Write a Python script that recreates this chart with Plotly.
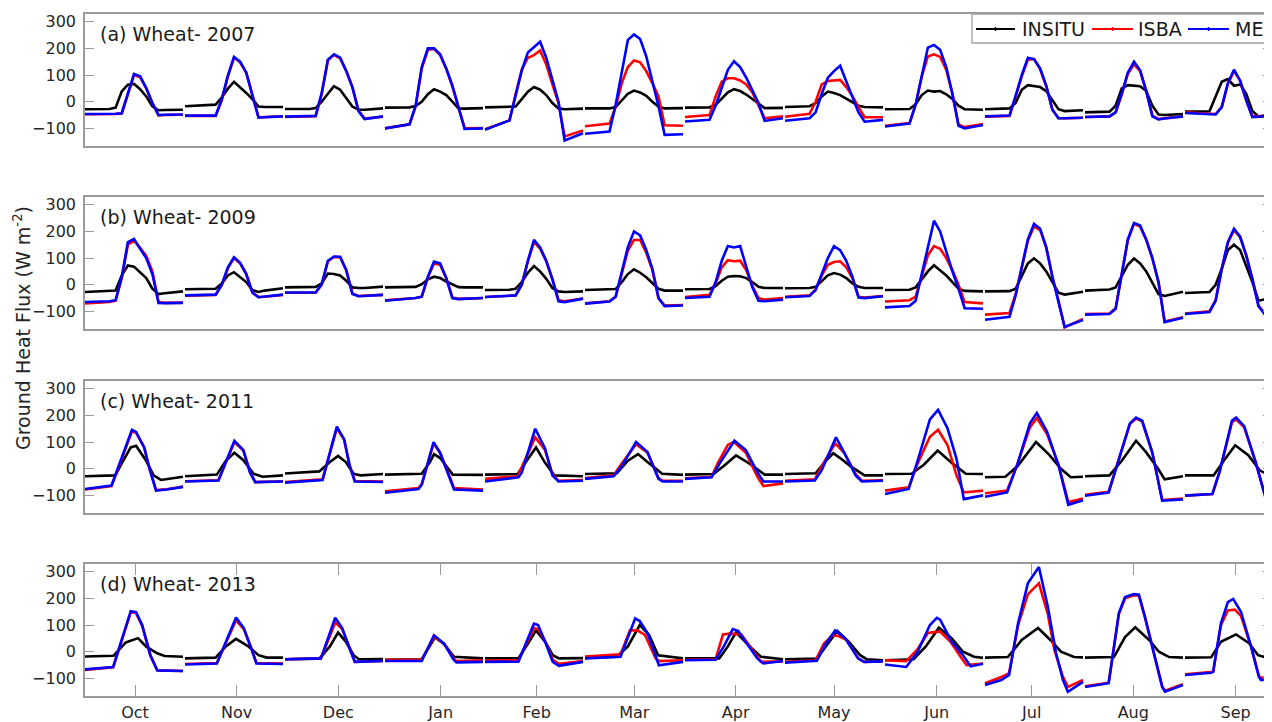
import plotly.graph_objects as go

# ---------------- data ----------------
MONTHS = ["Oct", "Nov", "Dec", "Jan", "Feb", "Mar", "Apr", "May", "Jun", "Jul", "Aug", "Sep"]
TICK_POS = [0.50, 1.517, 2.533, 3.557, 4.517, 5.493, 6.507, 7.49, 8.517, 9.467, 10.483, 11.507]
PANEL_TITLES = ["(a) Wheat- 2007", "(b) Wheat- 2009", "(c) Wheat- 2011", "(d) Wheat- 2013"]
SERIES = ["INSITU", "ISBA", "MEB"]

# hour of day of each value for panels (a) and (b)
GRID_HOURS = [0, 6, 7.5, 9, 10.5, 12, 13.5, 15, 16.5, 18, 19.5, 24]

A_INSITU = [
    [-28, -27, -22, 39, 64, 67, 47, 20, -17, -32, -31, -30],
    [-17, -12, -11, 16, 49, 75, 55, 33, 10, -18, -20, -20],
    [-27, -27, -24, 0, 30, 58, 45, 15, -18, -30, -30, -25],
    [-22, -21, -16, 0, 28, 47, 38, 25, 0, -25, -26, -24],
    [-21, -20, -18, 10, 38, 55, 45, 25, -5, -25, -28, -26],
    [-25, -25, -20, 5, 30, 42, 35, 22, 0, -18, -25, -24],
    [-22, -21, -12, 12, 35, 47, 40, 27, 10, -8, -24, -23],
    [-20, -17, -5, 20, 38, 33, 25, 12, 0, -15, -20, -21],
    [-28, -27, -10, 25, 42, 38, 40, 28, 10, -15, -28, -30],
    [-28, -25, -5, 45, 62, 58, 55, 40, 5, -28, -35, -32],
    [-40, -37, -15, 50, 62, 60, 58, 40, -15, -48, -50, -46],
    [-37, -36, 20, 75, 85, 60, 65, 30, -35, -55, -55, -52],
]
A_ISBA = [
    [-47, -47, -46, -44, 30, 100, 92, 50, -5, -51, -50, -49],
    [-53, -54, -53, 5, 95, 165, 148, 108, 28, -58, -57, -55],
    [-57, -55, -54, 30, 155, 176, 163, 115, 55, -33, -63, -56],
    [-100, -85, -18, 125, 195, 198, 175, 123, 58, -25, -100, -99],
    [-103, -70, 28, 120, 165, 175, 192, 140, 65, -5, -130, -108],
    [-92, -82, -20, 70, 130, 155, 148, 115, 70, 20, -88, -90],
    [-57, -50, 20, 75, 88, 88, 80, 65, 35, -15, -62, -55],
    [-56, -45, 0, 65, 78, 80, 82, 55, 22, -20, -58, -58],
    [-90, -80, -12, 95, 170, 178, 168, 120, 30, -85, -95, -84],
    [-56, -53, 20, 95, 158, 160, 122, 58, -30, -62, -62, -60],
    [-57, -55, -40, 28, 105, 140, 115, 40, -52, -65, -62, -55],
    [-40, -45, -46, -20, 68, 115, 78, 5, -55, -55, -52, -50],
]
A_MEB = [
    [-46, -46, -45, -43, 32, 104, 95, 51, -5, -50, -49, -48],
    [-52, -53, -52, 9, 98, 168, 150, 110, 30, -60, -58, -55],
    [-56, -54, -53, 33, 158, 178, 165, 115, 55, -35, -65, -55],
    [-100, -85, -15, 130, 200, 200, 178, 125, 60, -25, -102, -100],
    [-105, -70, 24, 117, 185, 205, 225, 165, 80, 0, -145, -118],
    [-120, -112, -12, 110, 232, 252, 235, 170, 75, -17, -124, -122],
    [-74, -68, -15, 55, 120, 152, 130, 90, 42, -5, -72, -62],
    [-71, -62, -40, 30, 90, 115, 135, 75, 15, -40, -75, -68],
    [-93, -82, -10, 100, 203, 213, 195, 130, 30, -90, -100, -87],
    [-55, -52, 22, 100, 165, 160, 125, 60, -30, -62, -62, -60],
    [-57, -55, -40, 30, 110, 150, 118, 40, -55, -66, -63, -55],
    [-42, -47, -48, -20, 70, 120, 80, 5, -58, -56, -52, -50],
]

B_INSITU = [
    [-27, -25, -22, 35, 72, 68, 45, 25, -15, -35, -32, -25],
    [-17, -16, -15, 5, 35, 47, 30, 10, -20, -27, -22, -13],
    [-10, -9, -8, 5, 42, 40, 35, 15, -10, -12, -12, -7],
    [-10, -9, -8, 2, 20, 30, 25, 12, 0, -9, -10, -10],
    [-20, -19, -15, 10, 45, 70, 50, 22, -12, -25, -27, -25],
    [-20, -19, -16, 10, 40, 58, 45, 28, 5, -15, -22, -22],
    [-17, -16, -5, 15, 30, 33, 32, 25, 10, -8, -12, -12],
    [-13, -12, -8, 15, 35, 44, 38, 25, 5, -8, -12, -12],
    [-20, -19, -10, 20, 50, 73, 55, 35, 10, -15, -23, -25],
    [-25, -24, -15, 30, 80, 99, 80, 50, 10, -30, -37, -26],
    [-22, -18, -10, 30, 75, 98, 80, 50, 5, -35, -42, -26],
    [-31, -27, 0, 60, 130, 150, 130, 70, 10, -60, -55, -35],
]
B_ISBA = [
    [-70, -65, -60, 25, 150, 165, 138, 108, 50, -65, -68, -67],
    [-41, -39, -38, -2, 62, 100, 80, 40, -28, -46, -45, -38],
    [-30, -30, -30, 0, 88, 104, 103, 55, -33, -42, -41, -38],
    [-58, -52, -50, -45, 28, 80, 75, 25, -48, -53, -52, -50],
    [-46, -43, -40, 0, 88, 160, 135, 88, 22, -58, -62, -52],
    [-70, -62, -45, 42, 128, 168, 168, 120, 55, -50, -78, -76],
    [-46, -38, 5, 65, 92, 88, 90, 55, -5, -50, -56, -50],
    [-45, -40, -18, 35, 75, 85, 88, 65, 25, -45, -48, -42],
    [-63, -58, -45, 30, 110, 145, 135, 100, 55, 0, -65, -70],
    [-112, -106, -35, 70, 165, 218, 205, 140, 30, -60, -160, -128],
    [-110, -108, -88, 40, 168, 228, 218, 168, 98, 10, -138, -122],
    [-108, -100, -58, 58, 158, 205, 178, 110, 22, -78, -108, -94],
]
B_MEB = [
    [-65, -62, -58, 28, 160, 172, 135, 100, 40, -68, -69, -68],
    [-40, -38, -37, 0, 65, 103, 82, 40, -30, -47, -45, -37],
    [-29, -29, -29, 3, 90, 106, 105, 55, -35, -43, -42, -38],
    [-60, -52, -50, -45, 30, 87, 80, 25, -50, -54, -53, -50],
    [-46, -43, -40, 0, 90, 168, 140, 90, 20, -62, -65, -52],
    [-71, -63, -45, 48, 141, 200, 185, 130, 60, -50, -80, -78],
    [-50, -45, 10, 90, 145, 140, 145, 70, -10, -60, -62, -56],
    [-47, -42, -20, 40, 100, 145, 130, 90, 30, -48, -50, -43],
    [-85, -80, -60, 40, 150, 240, 200, 120, 50, -15, -88, -90],
    [-131, -120, -40, 70, 170, 228, 210, 140, 30, -65, -158, -132],
    [-112, -110, -90, 40, 170, 232, 222, 170, 100, 10, -140, -124],
    [-110, -102, -60, 60, 160, 210, 180, 110, 20, -80, -110, -95],
]

# panels (c) and (d): (hour, value) pairs
C_INSITU = [
    [(0, -28), (7.4, -25), (9, 20), (11.2, 80), (12.5, 86), (14.9, 32), (16.8, -25), (18.6, -42), (24, -30)],
    [(0, -28), (7.8, -22), (10, 30), (12.1, 60), (14.3, 32), (16.8, -19), (19, -30), (24, -25)],
    [(0, -18), (8.4, -10), (11, 25), (13, 48), (14.9, 25), (16.8, -19), (18.6, -25), (24, -20)],
    [(0, -22), (9, -19), (11, 25), (12, 55), (13.5, 40), (16.6, -22), (24, -23)],
    [(0, -22), (8, -20), (10, 25), (12.5, 80), (14.6, 25), (17, -25), (24, -28)],
    [(0, -20), (7.8, -17), (10.5, 30), (13, 55), (15.3, 25), (18.9, -19), (24, -23)],
    [(0, -22), (7, -20), (9.5, 10), (12.5, 50), (15.8, 19), (19.5, -22), (24, -22)],
    [(0, -20), (7.5, -17), (10, 30), (11.8, 58), (13.5, 40), (16, 10), (19.5, -25), (24, -25)],
    [(0, -20), (6.5, -19), (9.5, 15), (12.9, 68), (16.5, 20), (19.8, -19), (24, -20)],
    [(0, -32), (5, -30), (8, 10), (12.5, 100), (15.8, 51), (18.6, 0), (21, -32), (24, -30)],
    [(0, -28), (6, -25), (9, 30), (12.5, 105), (14.9, 63), (17.9, 0), (19.5, -40), (24, -28)],
    [(0, -25), (7, -25), (9.5, 30), (12.3, 88), (15.5, 51), (18.3, -6), (21, -28), (24, -28)],
]
C_ISBA = [
    [(0, -78), (6.5, -65), (11.5, 140), (12.5, 135), (14.5, 80), (15.8, 0), (17.4, -80), (20, -77), (24, -67)],
    [(0, -47), (8.2, -43), (12.1, 100), (14.3, 68), (15.9, -12), (17.2, -50), (24, -47)],
    [(0, -50), (9.2, -40), (12.7, 152), (14.5, 108), (15.8, 13), (17.1, -46), (24, -48)],
    [(0, -85), (8.2, -72), (9, -58), (11.9, 95), (13.5, 60), (16.9, -72), (24, -78)],
    [(0, -38), (8, -28), (12.3, 118), (14.7, 70), (16.5, -20), (18, -45), (24, -42)],
    [(0, -35), (7, -25), (9, 20), (12.5, 92), (15.3, 60), (18, -35), (19, -45), (24, -45)],
    [(0, -36), (6.5, -30), (8, 20), (10.5, 90), (12, 100), (14.9, 60), (17.7, -30), (19.2, -65), (24, -55)],
    [(0, -45), (7.3, -40), (9, 10), (12.3, 95), (14.5, 60), (17.3, -20), (18.8, -45), (24, -43)],
    [(0, -82), (5.8, -70), (8, 20), (11, 120), (13, 146), (15.3, 89), (17.5, -25), (19.3, -89), (24, -82)],
    [(0, -92), (5.4, -82), (8, 20), (11, 155), (12.7, 190), (15.2, 130), (18, 15), (20.4, -125), (24, -112)],
    [(0, -98), (5.8, -86), (8, 22), (11, 168), (12.5, 188), (14, 178), (16.5, 60), (18.9, -117), (24, -112)],
    [(0, -101), (6.7, -95), (8.5, -10), (11.5, 175), (12.5, 185), (14.5, 155), (17.3, 25), (19.7, -105), (24, -100)],
]
C_MEB = [
    [(0, -76), (6.5, -63), (11.5, 146), (12.5, 138), (14.5, 80), (15.8, 0), (17.4, -82), (20, -78), (24, -68)],
    [(0, -48), (8.2, -44), (12.1, 105), (14.3, 70), (15.9, -13), (17.2, -50), (24, -48)],
    [(0, -52), (9.2, -42), (12.7, 158), (14.5, 110), (15.8, 13), (17.1, -48), (24, -50)],
    [(0, -90), (8.2, -76), (9, -60), (11.9, 100), (13.5, 60), (16.9, -78), (24, -82)],
    [(0, -48), (8.2, -32), (9, -15), (12.3, 150), (14.7, 76), (16.5, -25), (18, -48), (24, -45)],
    [(0, -38), (7, -28), (9, 10), (12.5, 100), (15.3, 63), (18, -38), (19, -48), (24, -48)],
    [(0, -38), (6.5, -32), (8.5, 20), (12.1, 105), (14.9, 70), (17.7, -13), (19.2, -48), (24, -48)],
    [(0, -48), (7.3, -44), (9, -5), (12.5, 118), (14.5, 60), (17.3, -25), (18.8, -48), (24, -45)],
    [(0, -95), (5.8, -76), (8, 30), (11, 185), (13, 221), (15.3, 152), (17.5, 38), (19.3, -114), (24, -100)],
    [(0, -105), (5.4, -89), (8, 20), (11, 170), (12.7, 209), (15.2, 139), (18, 13), (20.4, -135), (24, -118)],
    [(0, -101), (5.8, -89), (8, 20), (11, 170), (12.5, 192), (14, 180), (16.5, 60), (18.9, -120), (24, -115)],
    [(0, -101), (6.7, -95), (8.5, -10), (11.5, 180), (12.5, 192), (14.5, 160), (17.3, 25), (19.7, -108), (24, -100)],
]

D_INSITU = [
    [(0, -18), (7, -15), (10, 35), (13, 51), (15, 19), (17.7, -6), (19.5, -16), (24, -19)],
    [(0, -25), (7.5, -22), (10, 20), (12.5, 48), (15.6, 19), (18, -13), (20, -22), (24, -22)],
    [(0, -28), (8.4, -26), (11, 20), (13, 72), (14.9, 38), (16.8, -13), (18.1, -28), (24, -27)],
    [(0, -30), (9, -28), (12.3, 55), (14.7, 25), (16.9, -19), (24, -25)],
    [(0, -25), (8.2, -24), (10.5, 30), (12.5, 80), (14.7, 38), (16.6, -13), (18.1, -25), (24, -24)],
    [(0, -23), (7.8, -19), (10.5, 20), (13.4, 100), (15.7, 63), (17.9, -13), (24, -25)],
    [(0, -25), (8.4, -25), (10.5, 20), (12.5, 73), (15.9, 19), (18.6, -19), (24, -28)],
    [(0, -28), (7.8, -26), (10.5, 30), (12.8, 78), (15.6, 38), (18.4, -13), (20, -28), (24, -32)],
    [(0, -32), (7, -28), (10, 20), (13.2, 90), (16.3, 51), (19.1, 0), (21.8, -19), (24, -23)],
    [(0, -22), (5.6, -20), (9, 44), (13, 89), (16, 44), (18.6, 0), (21.8, -20), (24, -21)],
    [(0, -22), (7.1, -20), (9.8, 55), (12.3, 92), (15.7, 44), (18.1, 0), (20.6, -20), (24, -22)],
    [(0, -22), (6.4, -21), (8.8, 37), (12.5, 65), (15.7, 32), (17.9, -13), (20.3, -24), (24, -24)],
]
D_ISBA = [
    [(0, -68), (6.9, -58), (11.2, 148), (12.5, 145), (14, 98), (16, -13), (17.7, -70), (24, -72)],
    [(0, -46), (7.8, -42), (12.5, 118), (14.4, 85), (16.2, 15), (17.5, -42), (24, -44)],
    [(0, -28), (8.8, -25), (12.3, 110), (14, 85), (15.8, 15), (17.1, -38), (24, -35)],
    [(0, -30), (9, -30), (12, 55), (14.5, 30), (16.8, -25), (17.5, -35), (24, -32)],
    [(0, -33), (8.2, -32), (12, 88), (13, 85), (14.7, 40), (16.6, -30), (18.1, -45), (24, -35)],
    [(0, -18), (8.7, -10), (11, 80), (12.8, 80), (14.7, 63), (17.3, -25), (18.1, -35), (24, -32)],
    [(0, -30), (7.5, -28), (9.3, 65), (11, 68), (13.8, 65), (16.8, 0), (18.6, -38), (24, -36)],
    [(0, -38), (7.5, -32), (9.5, 30), (11.5, 60), (13, 60), (15, 45), (17.9, -25), (19.4, -38), (24, -36)],
    [(0, -32), (5.2, -35), (8, 10), (10.5, 70), (13.5, 76), (16, 38), (18.8, -25), (20, -50), (24, -44)],
    [(0, -118), (4, -95), (5.9, -80), (8.1, 100), (10.5, 215), (13.2, 257), (15.4, 140), (17, 6), (19, -90), (20.3, -132), (24, -106)],
    [(0, -130), (5.8, -116), (8.3, 142), (9.8, 200), (12, 212), (13.2, 210), (14.7, 128), (17.2, -20), (18.9, -130), (19.6, -146), (24, -122)],
    [(0, -85), (6.9, -75), (8.8, 100), (10.5, 155), (12.2, 158), (13.7, 135), (16.2, 18), (18.1, -90), (18.6, -98), (24, -95)],
]
D_MEB = [
    [(0, -66), (6.9, -57), (11.2, 152), (12.5, 148), (14, 100), (16, -13), (17.7, -70), (24, -72)],
    [(0, -48), (7.8, -44), (12.5, 128), (14.4, 89), (16.2, 13), (17.5, -44), (24, -46)],
    [(0, -28), (8.8, -25), (12.3, 128), (14, 89), (15.8, 13), (17.1, -38), (24, -35)],
    [(0, -35), (9, -35), (12, 62), (14.5, 30), (16.8, -30), (17.5, -40), (24, -38)],
    [(0, -38), (8.2, -37), (12, 105), (13, 100), (14.7, 38), (16.6, -38), (18.1, -53), (24, -38)],
    [(0, -25), (8.7, -19), (12.3, 125), (13.4, 115), (15.3, 70), (18.1, -51), (24, -38)],
    [(0, -32), (7.5, -30), (9.5, 20), (11.7, 85), (13, 78), (14.9, 38), (17.7, -25), (19.2, -44), (24, -35)],
    [(0, -41), (7.8, -34), (10, 30), (12.3, 80), (14.7, 51), (17.9, -25), (19.4, -38), (24, -36)],
    [(0, -48), (3.4, -55), (5.2, -57), (8, 0), (11, 100), (12.7, 127), (13.5, 120), (16.3, 38), (19.1, -13), (21, -55), (24, -45)],
    [(0, -125), (4, -106), (5.9, -87), (8.1, 107), (10.5, 257), (13.2, 318), (15.4, 168), (17.4, -5), (19.1, -106), (20.3, -150), (24, -113)],
    [(0, -132), (5.8, -118), (8.3, 145), (9.8, 205), (12, 216), (13.2, 214), (14.7, 130), (17.2, -20), (18.9, -132), (19.6, -150), (24, -125)],
    [(0, -87), (6.4, -79), (6.9, -75), (8.8, 107), (10.5, 186), (11.8, 198), (13.7, 150), (16.2, 18), (18.1, -95), (18.6, -106), (24, -97)],
]

# ---------------- styling / layout ----------------
COLORS = {"INSITU": "#000000", "ISBA": "#ff0000", "MEB": "#0000ff"}
FONT = "DejaVu Sans"
FRAME = "#9a9a9a"
TXT = "#262626"
OFF = 8                     # page body margin of the html page
W, H = 1272 - OFF, 722 - OFF
ML, MR, MT, MB = 85 - OFF, 0, 14 - OFF, 26
PW, PH = W - ML - MR, H - MT - MB
SEG = 0.98          # fraction of a month slot used by one diurnal cycle
XR = [0, PW / 100.0]
YR = [-166, 329]

# panel pixel tops on the page (132 px tall each)
PANEL_TOP = [14, 197, 381, 564]
PANEL_H = 132


def px(xp):
    """page pixel x -> paper fraction"""
    return (xp - OFF - ML) / PW


def py(yp):
    """page pixel y -> paper fraction"""
    return (H - MB - (yp - OFF)) / PH


def dom(top):
    return [py(top + PANEL_H), py(top)]


def grid_pairs(curves):
    return [list(zip(GRID_HOURS, c)) for c in curves]


def to_xy(curves):
    xs, ys = [], []
    for m, pts in enumerate(curves):
        for h, v in pts:
            xs.append(m + SEG * h / 24.0)
            ys.append(v)
        xs.append(None)
        ys.append(None)
    return xs, ys


PANELS = [
    {"INSITU": grid_pairs(A_INSITU), "ISBA": grid_pairs(A_ISBA), "MEB": grid_pairs(A_MEB)},
    {"INSITU": grid_pairs(B_INSITU), "ISBA": grid_pairs(B_ISBA), "MEB": grid_pairs(B_MEB)},
    {"INSITU": C_INSITU, "ISBA": C_ISBA, "MEB": C_MEB},
    {"INSITU": D_INSITU, "ISBA": D_ISBA, "MEB": D_MEB},
]

fig = go.Figure()
for i, panel in enumerate(PANELS):
    n = "" if i == 0 else str(i + 1)
    for s in SERIES:
        xs, ys = to_xy(panel[s])
        fig.add_trace(go.Scatter(
            x=xs, y=ys, mode="lines", name=s, showlegend=False,
            line=dict(color=COLORS[s], width=2.6),
            xaxis="x" + n, yaxis="y" + n, hoverinfo="skip"))

layout = dict(
    width=W, height=H,
    margin=dict(l=ML, r=MR, t=MT, b=MB, autoexpand=False),
    paper_bgcolor="white", plot_bgcolor="white",
    font=dict(family=FONT, size=16, color=TXT),
    showlegend=False,
)
annotations = []
shapes = []
for i in range(4):
    n = "" if i == 0 else str(i + 1)
    last = (i == 3)
    layout["xaxis" + n] = dict(
        domain=[0, 1], anchor="y" + n, range=XR,
        showline=True, linecolor=FRAME, linewidth=1.5, mirror="ticks" if last else True,
        showgrid=False, zeroline=False,
        tickvals=TICK_POS, ticktext=MONTHS,
        ticks="inside" if last else "", ticklen=11, tickwidth=1.2, tickcolor=FRAME,
        showticklabels=last, tickfont=dict(size=16, color=TXT),
        ticklabelstandoff=1,
    )
    layout["yaxis" + n] = dict(
        domain=dom(PANEL_TOP[i]), anchor="x" + n, range=YR,
        showline=True, linecolor=FRAME, linewidth=1.5, mirror="ticks",
        showgrid=False, zeroline=False,
        tickvals=[-100, 0, 100, 200, 300],
        ticks="inside", ticklen=9, tickwidth=1.2, tickcolor=FRAME,
        tickfont=dict(size=16, color=TXT),
        ticklabelstandoff=4,
    )
    annotations.append(dict(
        text=PANEL_TITLES[i], xref="paper", yref=("y" + n + " domain") if n else "y domain",
        x=px(98), y=1 - 20 / PANEL_H, xanchor="left", yanchor="middle",
        showarrow=False, font=dict(size=19, color="#1a1a1a", family=FONT)))

# y-axis label
annotations.append(dict(
    text="Ground Heat Flux (W m<sup>-2</sup>)", xref="paper", yref="paper",
    x=px(22), y=py(328), xanchor="center", yanchor="middle",
    textangle=-90, showarrow=False, font=dict(size=19, color=TXT, family=FONT)))

# legend drawn by hand (it is cut by the right edge in the reference)
shapes.append(dict(type="rect", xref="paper", yref="paper",
                   x0=px(972), x1=px(1330), y0=py(43), y1=py(14),
                   line=dict(color="#a0a0a0", width=1.3), fillcolor="white", layer="above"))
LEG = [("INSITU", 976, 1015, 1020), ("ISBA", 1092, 1133, 1136), ("MEB", 1188, 1229, 1233)]
for name, l0, l1, tx in LEG:
    shapes.append(dict(type="line", xref="paper", yref="paper",
                       x0=px(l0), x1=px(l1), y0=py(29), y1=py(29),
                       line=dict(color=COLORS[name], width=2.2), layer="above"))
    shapes.append(dict(type="line", xref="paper", yref="paper",
                       x0=px((l0 + l1) / 2), x1=px((l0 + l1) / 2), y0=py(31), y1=py(27),
                       line=dict(color=COLORS[name], width=1.5), layer="above"))
    annotations.append(dict(text=name, xref="paper", yref="paper", x=px(tx), y=py(29.5),
                            xanchor="left", yanchor="middle", showarrow=False,
                            font=dict(size=19, color="#1a1a1a", family=FONT)))

layout["annotations"] = annotations
layout["shapes"] = shapes
fig.update_layout(**layout)
fig.write_html("out.html")
